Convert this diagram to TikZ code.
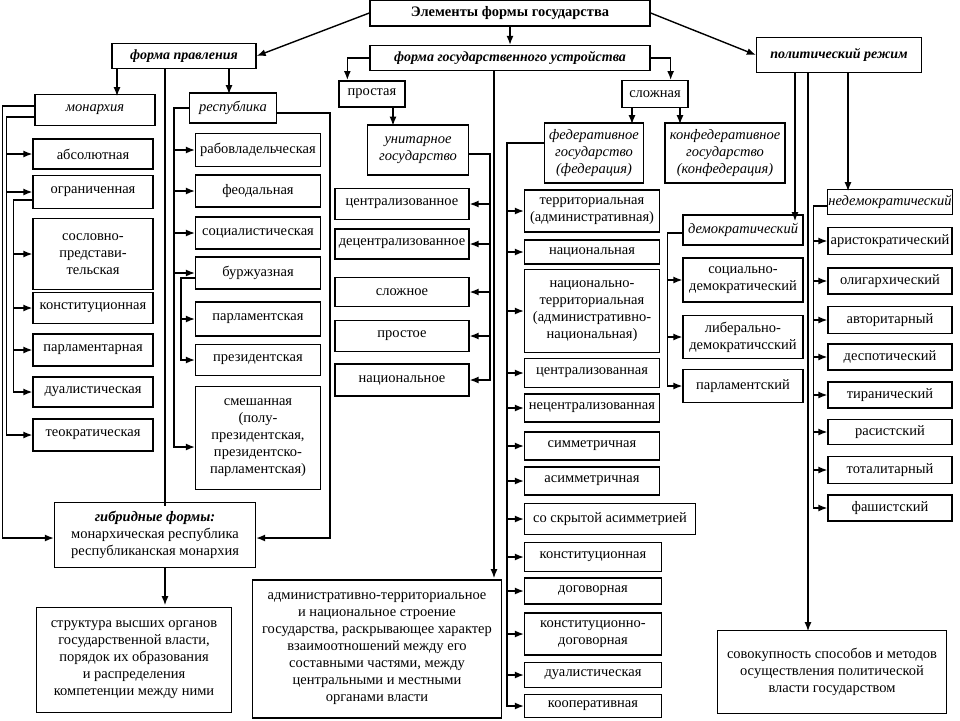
\documentclass[tikz,border=0pt]{standalone}
\usepackage{fontspec}
\setmainfont{Liberation Serif}
\usetikzlibrary{arrows.meta}

\tikzset{
  box/.style={draw, line width=1.3pt, align=center, inner sep=1pt,
    font=\fontsize{14.5}{17}\selectfont},
  head/.style={box, font=\fontsize{14}{17}\selectfont\bfseries\itshape},
  kind/.style={box, font=\fontsize{14.5}{17}\selectfont\itshape},
  arr/.style={line width=1.4pt, -{Latex[length=9pt,width=7pt]}},
  ln/.style={line width=1.4pt}
}
% box: name, x, y, width, height, style, text
\newcommand{\bx}[7]{\node[#6, minimum width=#4pt, minimum height=#5pt] (#1) at (#2,#3) {#7};}

\begin{document}
\begin{tikzpicture}[x=1pt, y=-1pt]
  \useasboundingbox (0,0) rectangle (960,720);

  % top level
  \bx{elem}{510}{13}{280}{26}{box}{\bfseries Элементы формы государства}
  \bx{fprav}{184}{56}{144}{25}{head}{форма правления}
  \bx{fustr}{510}{58}{280}{25}{head}{форма государственного устройства}
  \bx{rezh}{839}{55}{165}{35}{head}{политический режим}

  \draw[arr] (elem.west) -- (fprav.east);
  \draw[arr] (elem.south) -- (fustr.north);
  \draw[arr] (elem.east) -- (rezh.west);

  % form of government
  \bx{mon}{95}{110}{120}{31}{kind}{монархия}
  \bx{resp}{233}{108}{87}{30}{kind}{республика}
  \draw[arr] (fprav.south -| mon.north) ++(22,0) -- ++(0,27);
  \draw[arr] (fprav.south -| resp.north) ++(-4,0) -- ++(0,25);

  \bx{abs}{93}{154}{120}{30}{box}{абсолютная}
  \bx{ogr}{93}{192}{120}{33}{box}{ограниченная}
  \bx{sosl}{93}{254}{120}{71}{box}{сословно-\\представи-\\тельская}
  \bx{konst}{93}{308}{120}{31}{box}{конституционная}
  \bx{parl}{93}{350}{120}{32}{box}{парламентарная}
  \bx{dual}{93}{392}{120}{30}{box}{дуалистическая}
  \bx{teo}{93}{435}{120}{32}{box}{теократическая}

  \foreach \c in {abs, ogr, teo}
    \draw[arr] ([yshift=-7pt]mon.west) -- ++(-28,0) |- (\c.west);
  \foreach \c in {sosl, konst, parl, dual}
    \draw[arr] ([yshift=-8pt]ogr.west) -- ++(-19,0) |- (\c.west);

  \bx{rab}{258}{150}{125}{33}{box}{рабовладельческая}
  \bx{feod}{258}{191}{125}{32}{box}{феодальная}
  \bx{soc}{258}{233}{125}{32}{box}{социалистическая}
  \bx{burzh}{258}{273}{125}{32}{box}{буржуазная}
  \bx{parlr}{258}{319}{125}{34}{box}{парламентская}
  \bx{prez}{258}{360}{125}{31}{box}{президентская}
  \bx{smesh}{258}{438}{125}{103}{box}{смешанная\\(полу-\\президентская,\\президентско-\\парламентская)}

  \foreach \c in {rab, feod, soc, burzh}
    \draw[arr] (resp.west) -- ++(-15,0) |- (\c.west);
  \draw[arr] (resp.west) -- ++(-15,0) |- ([yshift=-9pt]smesh.west);
  \foreach \c in {parlr, prez}
    \draw[arr] ([yshift=-5pt]burzh.west) -- ++(-14,0) |- (\c.west);

  \bx{gibr}{155}{535}{201}{65}{box}{\textbf{\textit{гибридные формы:}}\\монархическая республика\\республиканская монархия}
  \draw[ln] (fprav.south) ++(-19,0) -- ++(0,437);
  \draw[arr] ([yshift=4pt]mon.west) -- ++(-32,0) |- ([yshift=-3pt]gibr.west);
  \draw[arr] ([yshift=-5pt]resp.east) -- ++(53,0) |- ([yshift=-3pt]gibr.east);

  \bx{opr1}{134}{660}{195}{105}{box}{структура высших органов\\государственной власти,\\порядок их образования\\и распределения\\компетенции между ними}
  \draw[arr] (gibr.south) ++(10,0) -- ++(0,37);

  % form of state structure
  \bx{prost}{372}{94}{66}{26}{box}{простая}
  \bx{slozh}{655}{94}{66}{27}{box}{сложная}
  \draw[arr] (fustr.west) -- ++(-22,0) -- ++(0,22);
  \draw[arr] (fustr.east) -- ++(20,0) -- ++(0,22);

  \bx{unit}{418}{150}{101}{50}{kind}{унитарное\\государство}
  \draw[arr] (prost.south) ++(21,0) -- ++(0,18);

  \bx{centr}{402}{204}{134}{31}{box}{централизованное}
  \bx{decentr}{402}{244}{134}{30}{box}{децентрализованное}
  \bx{slozhn}{402}{292}{134}{29}{box}{сложное}
  \bx{prostn}{402}{336}{134}{31}{box}{простое}
  \bx{nacn}{402}{380}{134}{32}{box}{национальное}
  \foreach \c in {centr, decentr, slozhn, prostn, nacn}
    \draw[arr] ([yshift=-4pt]unit.east) -- ++(21,0) |- (\c.east);

  \bx{opr2}{377}{649}{249}{138}{box}{административно-территориальное\\и национальное  строение\\государства, раскрывающее характер\\взаимоотношений между его\\составными частями, между\\центральными и местными\\органами власти}
  \draw[arr] (fustr.south) ++(-16,0) -- ++(0,507);

  \bx{fed}{594}{153}{99}{60}{kind}{федеративное\\государство\\(федерация)}
  \bx{konf}{725}{153}{120}{60}{kind}{конфедеративное\\государство\\(конфедерация)}
  \draw[arr] (slozh.south) ++(-23,0) -- ++(0,16);
  \draw[arr] (slozh.south) ++(25,0) -- ++(0,16);

  \bx{terr}{592}{211}{135}{42}{box}{территориальная\\(административная)}
  \bx{nac}{592}{252}{135}{24}{box}{национальная}
  \bx{nacter}{592}{311}{135}{83}{box}{национально-\\территориальная\\(административно-\\национальная)}
  \bx{centra}{592}{373}{135}{29}{box}{централизованная}
  \bx{necentra}{592}{408}{135}{28}{box}{нецентрализованная}
  \bx{simm}{592}{446}{135}{28}{box}{симметричная}
  \bx{asimm}{592}{481}{135}{28}{box}{асимметричная}
  \bx{skryt}{610}{519}{171}{31}{box}{со скрытой асимметрией}
  \bx{konstf}{593}{557}{137}{29}{box}{конституционная}
  \bx{dog}{593}{591}{137}{26}{box}{договорная}
  \bx{konstdog}{593}{634}{137}{42}{box}{конституционно-\\договорная}
  \bx{dualf}{593}{675}{137}{25}{box}{дуалистическая}
  \bx{koop}{593}{706}{137}{23}{box}{кооперативная}
  \foreach \c in {terr, nac, nacter, centra, necentra, simm, asimm, skryt,
                  konstf, dog, konstdog, dualf, koop}
    \draw[arr] ([yshift=10pt]fed.west) -- ++(-37,0) |- (\c.west);

  % political regime
  \bx{dem}{743}{230}{120}{30}{kind}{демократический}
  \bx{sdem}{743}{280}{120}{44}{box}{социально-\\демократический}
  \bx{ldem}{743}{337}{120}{43}{box}{либерально-\\демократичсский}
  \bx{parlm}{743}{386}{120}{33}{box}{парламентский}
  \draw[arr] (rezh.south) ++(-44,0) -- ++(0,148);
  \foreach \c in {sdem, ldem, parlm}
    \draw[arr] ([yshift=-3pt]dem.west) -- ++(-15,0) |- (\c.west);

  \bx{nedem}{890}{202}{124}{25}{kind}{недемократический}
  \draw[arr] (rezh.south) ++(9,0) -- ++(0,118);
  \bx{arist}{890}{241}{124}{27}{box}{аристократический}
  \bx{olig}{890}{281}{124}{26}{box}{олигархический}
  \bx{avt}{890}{320}{124}{27}{box}{авторитарный}
  \bx{desp}{890}{357}{124}{26}{box}{деспотический}
  \bx{tiran}{890}{395}{124}{26}{box}{тиранический}
  \bx{rasist}{890}{432}{124}{25}{box}{расистский}
  \bx{total}{890}{470}{124}{27}{box}{тоталитарный}
  \bx{fash}{890}{508}{124}{26}{box}{фашистский}
  \foreach \c in {arist, olig, avt, desp, tiran, rasist, total, fash}
    \draw[arr] ([yshift=-4pt]nedem.west) -- ++(-13,0) |- (\c.west);

  \bx{opr3}{832}{672}{229}{83}{box}{совокупность способов и методов\\осуществления политической\\власти государством}
  \draw[arr] (rezh.south) ++(-31,0) -- ++(0,558);
\end{tikzpicture}
\end{document}
